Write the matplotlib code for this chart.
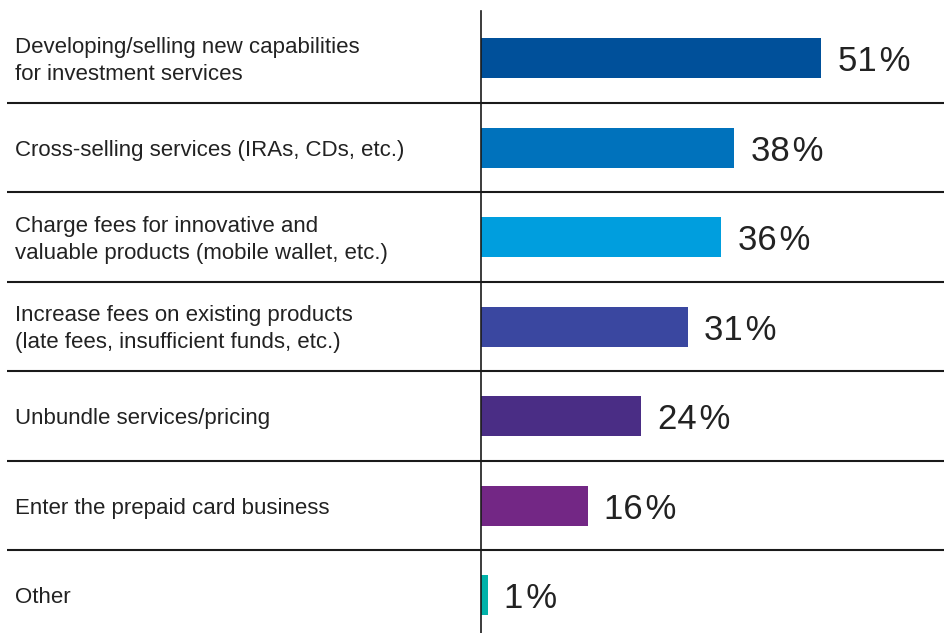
import matplotlib
matplotlib.use("Agg")
import matplotlib.pyplot as plt

categories = [
    "Developing/selling new capabilities\nfor investment services",
    "Cross-selling services (IRAs, CDs, etc.)",
    "Charge fees for innovative and\nvaluable products (mobile wallet, etc.)",
    "Increase fees on existing products\n(late fees, insufficient funds, etc.)",
    "Unbundle services/pricing",
    "Enter the prepaid card business",
    "Other",
]
values = [51, 38, 36, 31, 24, 16, 1]
colors = ["#00509A", "#0072BC", "#009EDE", "#3A47A0", "#4A2D85", "#732785", "#00B2A9"]

plt.rcParams['font.family'] = ['Liberation Sans', 'DejaVu Sans']

fig = plt.figure(figsize=(9.44, 6.33), dpi=100)
ax = fig.add_axes([0, 0, 1, 1])
px_per_unit = 6.667
x0 = 481
ax.set_xlim(-x0 / px_per_unit, (944 - x0) / px_per_unit)
row_h = 89.5
c0 = 58
ax.set_ylim((633 - c0) / row_h, -c0 / row_h)
ax.axis("off")

ypos = list(range(len(categories)))
ax.barh(ypos, values, height=40 / row_h, color=colors, left=0)

label_x = (15 - x0) / px_per_unit
for y, cat, v in zip(ypos, categories, values):
    ax.text(label_x, y + 0.03, cat, ha="left", va="center", fontsize=16,
            color="#222222", linespacing=1.38)
    ax.text(v + 2.5, y + 0.04, f"{v}\u200a%", ha="left", va="center", fontsize=25,
            color="#222222")

# separators
line_left = (7 - x0) / px_per_unit
for i in range(len(categories) - 1):
    ax.plot([line_left, (944 - x0) / px_per_unit], [i + 0.5, i + 0.5],
            color="#1a1a1a", lw=1.5, solid_capstyle="butt")
ax.plot([0, 0], [(11 - c0) / row_h, (633 - c0) / row_h], color="#1a1a1a", lw=1.2)

fig.savefig("out.png", dpi=100)
